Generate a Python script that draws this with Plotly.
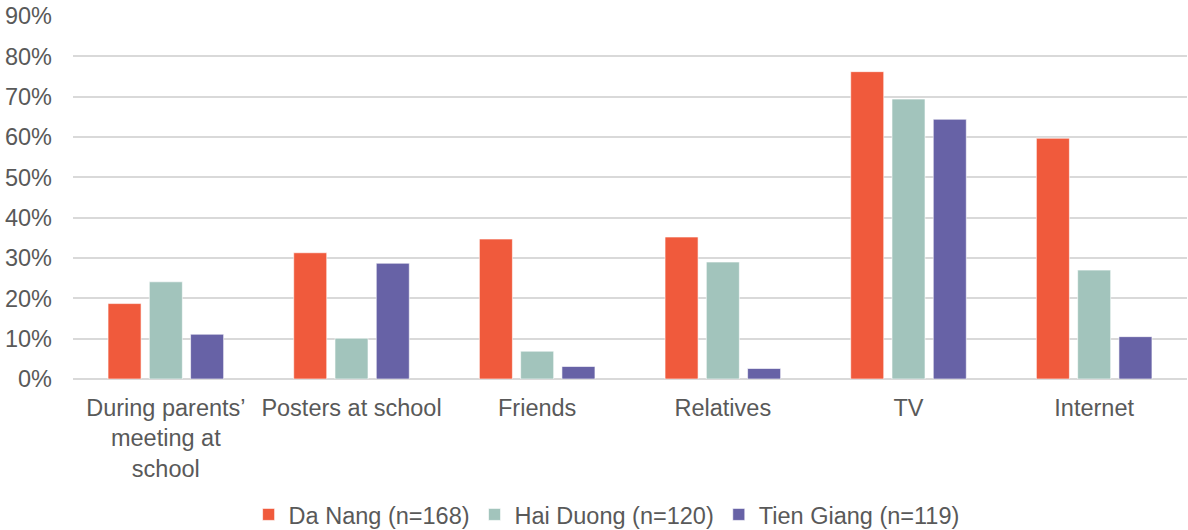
import plotly.graph_objects as go

categories = ["During parents’<br>meeting at<br>school", "Posters at school", "Friends", "Relatives", "TV", "Internet"]
da_nang = [18.7, 31.3, 34.7, 35.2, 76.2, 59.7]
hai_duong = [24.1, 10.1, 6.9, 29.0, 69.4, 27.0]
tien_giang = [11.1, 28.7, 3.1, 2.6, 64.4, 10.5]
series_names = ["Da Nang (n=168)", "Hai Duong (n=120)", "Tien Giang (n=119)"]
colors = ["#F05A3C", "#A2C4BC", "#6762A6"]
tick_vals = [0, 10, 20, 30, 40, 50, 60, 70, 80, 90]
tick_text = [f"{v}%" for v in tick_vals]

FONT = "Liberation Sans, Arial, sans-serif"
TXT = "#595959"

fig = go.Figure()
for name, vals, col in zip(series_names, [da_nang, hai_duong, tien_giang], colors):
    fig.add_trace(go.Bar(
        x=categories, y=vals, name=name,
        marker=dict(color=col, line=dict(color="rgba(255,255,255,0.6)", width=1)),
    ))

fig.update_layout(
    width=1188, height=530,
    margin=dict(l=73, r=1, t=15.5, b=151, pad=0, autoexpand=False),
    paper_bgcolor="white", plot_bgcolor="white",
    barmode="group", bargap=0.333, bargroupgap=0.2,
    font=dict(family=FONT, size=23.5, color=TXT),
    showlegend=True,
    legend=dict(orientation="h", x=0.479, xanchor="center",
                yref="container", y=0.029, yanchor="middle",
                font=dict(size=23.5, color=TXT), itemwidth=30, traceorder="normal",
                bgcolor="rgba(0,0,0,0)"),
    xaxis=dict(showgrid=False, showline=False, zeroline=False, ticks="",
               ticklabelstandoff=12, automargin=False,
               tickfont=dict(size=23.5, color=TXT)),
    yaxis=dict(range=[0, 90], tickvals=tick_vals, ticktext=tick_text,
               showgrid=True, gridcolor="#D9D9D9", gridwidth=1.5,
               zeroline=True, zerolinecolor="#D9D9D9", zerolinewidth=1.5,
               showline=False, ticks="", ticklabelstandoff=20, automargin=False,
               tickfont=dict(size=23.5, color=TXT)),
)

fig.write_html("out.html")
